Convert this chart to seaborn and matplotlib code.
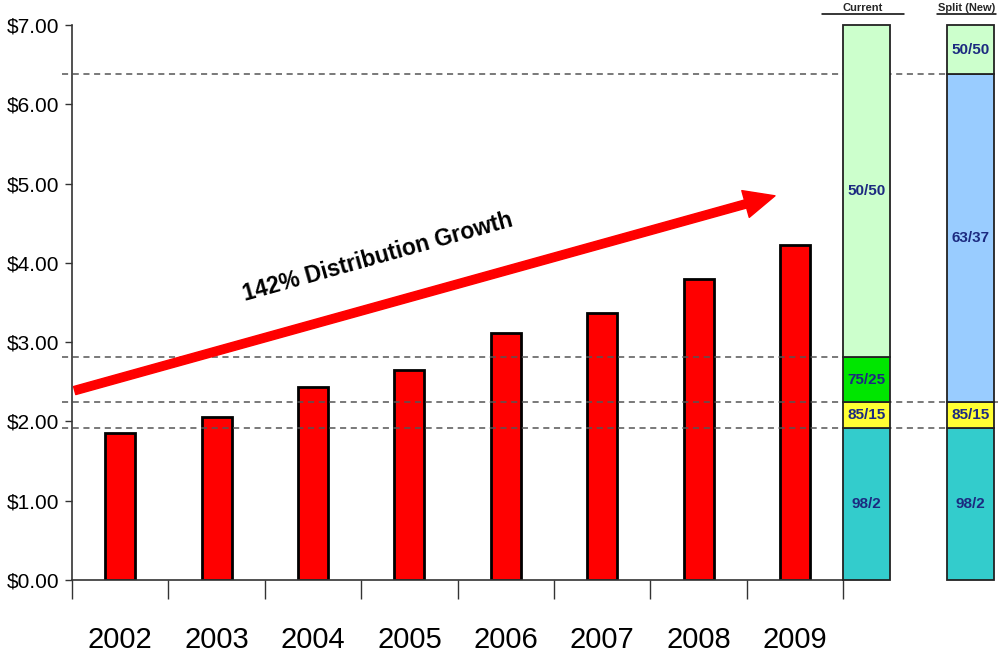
import matplotlib
matplotlib.use("Agg")
import matplotlib.pyplot as plt
import seaborn as sns
import pandas as pd
from matplotlib.patches import FancyArrowPatch

# ---- data ----
years = ["2002", "2003", "2004", "2005", "2006", "2007", "2008", "2009"]
distribution = [1.85, 2.06, 2.43, 2.65, 3.11, 3.37, 3.80, 4.22]

y_ticks = [0, 1, 2, 3, 4, 5, 6, 7]
y_tick_labels = ["$0.00", "$1.00", "$2.00", "$3.00", "$4.00", "$5.00", "$6.00", "$7.00"]

split1_labels = ["98/2", "85/15", "75/25", "50/50"]
split1_tops = [1.92, 2.24, 2.81, 7.00]
split1_colors = ["#33CCCC", "#FFFF33", "#00E600", "#CCFFCC"]

split2_labels = ["98/2", "85/15", "63/37", "50/50"]
split2_tops = [1.92, 2.24, 6.38, 7.00]
split2_colors = ["#33CCCC", "#FFFF33", "#99CCFF", "#CCFFCC"]

header_labels = ["Current", "Split (New)"]
annotation_text = "142% Distribution Growth"

sns.set_style("white")
plt.rcParams["font.family"] = ["Liberation Sans Narrow", "Liberation Sans", "DejaVu Sans"]

W, H = 998, 669
fig = plt.figure(figsize=(W / 100, H / 100), dpi=100)
ax = fig.add_axes([72 / W, (H - 580) / H, (W - 72) / W, (580 - 25) / H])

df = pd.DataFrame({"year": years, "value": distribution})
sns.barplot(data=df, x="year", y="value", color="#FF0000", width=0.31,
            edgecolor="black", linewidth=2, saturation=1, ax=ax)

ax.set_xlim(-0.5, -0.5 + 926 / 96.4)
ax.set_ylim(0, 7)

# stacked split bars
stack_x = [7.745, 8.82]
stack_w = 0.49
for xc, tops, cols, labs in [(stack_x[0], split1_tops, split1_colors, split1_labels),
                             (stack_x[1], split2_tops, split2_colors, split2_labels)]:
    bottom = 0
    for top, c, lab in zip(tops, cols, labs):
        ax.bar(xc, top - bottom, bottom=bottom, width=stack_w, color=c,
               edgecolor="#222222", linewidth=1.3, clip_on=False, zorder=3)
        ax.text(xc, (bottom + top) / 2, lab, ha="center", va="center",
                fontsize=11, fontweight="bold", color="#1C2A80",
                family=["Liberation Sans", "DejaVu Sans"], zorder=4)
        bottom = top

# dashed reference lines
dash_kw = dict(color="#555555", linestyle=(0, (4, 3)), linewidth=1.1, clip_on=False, zorder=2)
x_left = -0.6
ax.plot([x_left, stack_x[1] - stack_w / 2], [split2_tops[2]] * 2, **dash_kw)
ax.plot([x_left, stack_x[0] - stack_w / 2], [split1_tops[2]] * 2, **dash_kw)
ax.plot([x_left, 9.106], [split1_tops[1]] * 2, **dash_kw)
ax.plot([x_left, stack_x[1] - stack_w / 2], [split1_tops[0]] * 2, **dash_kw)

# growth arrow
arrow = FancyArrowPatch((-0.5, 2.38), (6.82, 4.855),
                        arrowstyle="simple,tail_width=6,head_width=20,head_length=22",
                        mutation_scale=1, color="#FF0000", zorder=5, clip_on=False)
ax.add_patch(arrow)
ax.text(2.67, 4.07, annotation_text, rotation=15.6, rotation_mode="anchor",
        ha="center", va="center", fontsize=16.5, fontweight="bold", color="black",
        family=["Liberation Sans", "DejaVu Sans"])

# axes styling
for s in ["top", "right"]:
    ax.spines[s].set_visible(False)
ax.spines["left"].set_color("#333333")
ax.spines["bottom"].set_color("#333333")
ax.spines["left"].set_linewidth(1.2)
ax.spines["bottom"].set_linewidth(1.2)
ax.spines["bottom"].set_bounds(-0.5, 7.5)

ax.set_yticks(y_ticks)
ax.set_yticklabels(y_tick_labels)
ax.tick_params(axis="y", which="major", left=True, direction="out", length=5,
               width=1, color="#333333", pad=4, labelsize=15, labelcolor="black")

ax.set_xticks([i - 0.5 for i in range(len(years) + 1)])
ax.set_xticklabels([])
ax.set_xticks(list(range(len(years))), minor=True)
ax.set_xticklabels(years, minor=True)
ax.tick_params(axis="x", which="major", bottom=True, direction="out", length=14,
               width=1, color="#333333")
ax.tick_params(axis="x", which="minor", bottom=False, length=0, pad=33, labelsize=21,
               labelcolor="black")
ax.set_xlabel("")
ax.set_ylabel("")

# header labels at the top edge (underlined)
for (x0, x1), lab in zip([(822, 904), (937, 996)], header_labels):
    fig.text((x0 + x1) / 2 / W, 1 - 13 / H, lab, ha="center", va="bottom", fontsize=8,
             fontweight="bold", family=["Liberation Sans", "DejaVu Sans"])
    fig.add_artist(plt.Line2D([x0 / W, x1 / W], [1 - 14 / H] * 2, color="black", lw=1.1))

fig.savefig("out.png", dpi=100)
